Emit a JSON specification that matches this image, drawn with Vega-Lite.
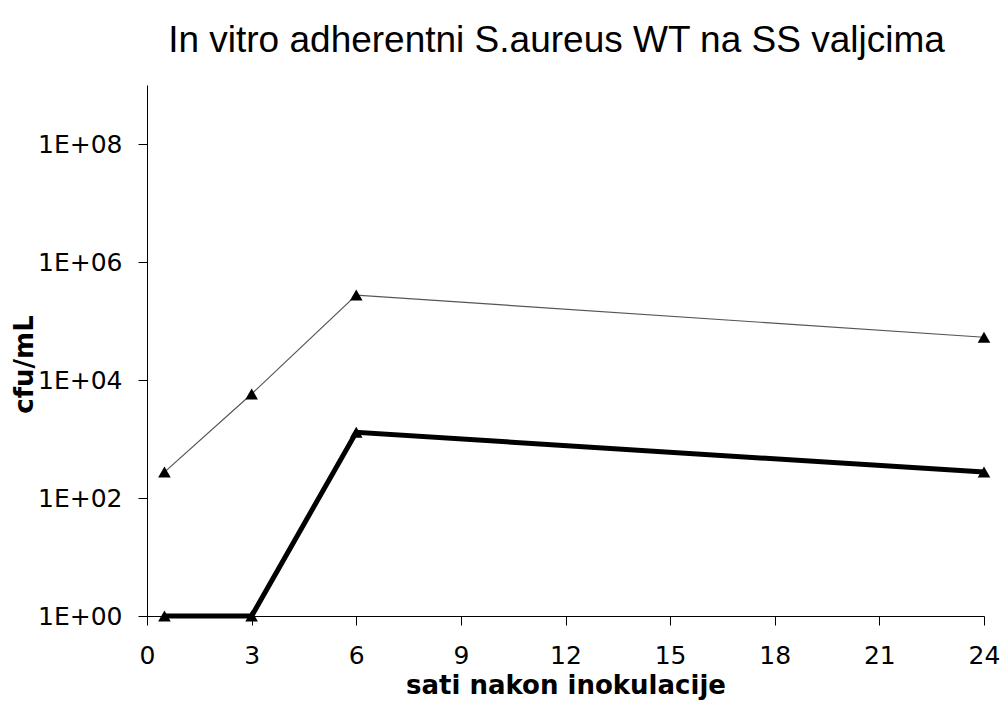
{
  "$schema": "https://vega.github.io/schema/vega-lite/v6.json",
  "width": 837,
  "height": 531,
  "autosize": "none",
  "padding": {"left": 147, "top": 85, "right": 19, "bottom": 90},
  "background": "white",
  "title": {
    "text": "In vitro adherentni S.aureus WT na SS valjcima",
    "font": "Liberation Sans",
    "fontSize": 37,
    "fontWeight": "normal",
    "color": "black",
    "anchor": "middle",
    "baseline": "alphabetic",
    "offset": -4,
    "dx": -9
  },
  "config": {
    "view": {"stroke": null},
    "axis": {
      "grid": false,
      "domainColor": "black",
      "tickColor": "black",
      "tickSize": 9,
      "labelFont": "DejaVu Sans",
      "labelFontSize": 25,
      "labelColor": "black",
      "titleFont": "DejaVu Sans",
      "titleFontSize": 26,
      "titleFontWeight": "bold",
      "titleColor": "black"
    }
  },
  "data": {
    "values": [
      {"t": 0.5, "cfu": 275, "series": "A"},
      {"t": 3, "cfu": 5800, "series": "A"},
      {"t": 6, "cfu": 275000, "series": "A"},
      {"t": 24, "cfu": 53000, "series": "A"},
      {"t": 0.5, "cfu": 1, "series": "B"},
      {"t": 3, "cfu": 1, "series": "B"},
      {"t": 6, "cfu": 1300, "series": "B"},
      {"t": 24, "cfu": 275, "series": "B"}
    ]
  },
  "encoding": {
    "x": {
      "field": "t",
      "type": "quantitative",
      "scale": {"domain": [0, 24], "nice": false, "zero": false},
      "axis": {
        "values": [0, 3, 6, 9, 12, 15, 18, 21, 24],
        "title": "sati nakon inokulacije",
        "labelPadding": 18,
        "labelFlush": false,
        "titleY": 77,
        "titleBaseline": "alphabetic"
      }
    },
    "y": {
      "field": "cfu",
      "type": "quantitative",
      "scale": {"type": "log", "domain": [1, 1000000000], "nice": false},
      "axis": {
        "values": [1, 100, 10000, 1000000, 100000000],
        "labelExpr": "'1E+' + (round(log(datum.value)/LN10) < 10 ? '0' : '') + round(log(datum.value)/LN10)",
        "labelPadding": 16,
        "labelFlush": false,
        "title": "cfu/mL",
        "titleX": -123,
        "titleY": 279,
        "titleAngle": -90,
        "titleAlign": "center",
        "titleBaseline": "middle"
      }
    }
  },
  "layer": [
    {
      "mark": {"type": "line", "clip": false},
      "encoding": {
        "detail": {"field": "series"},
        "color": {"field": "series", "scale": {"domain": ["A", "B"], "range": ["#555555", "#000000"]}, "legend": null},
        "strokeWidth": {"field": "series", "scale": {"domain": ["A", "B"], "range": [1.2, 5]}, "legend": null}
      }
    },
    {
      "mark": {"type": "point", "shape": "triangle-up", "filled": true, "color": "black", "opacity": 1, "size": 160, "clip": false},
      "encoding": {}
    }
  ]
}
